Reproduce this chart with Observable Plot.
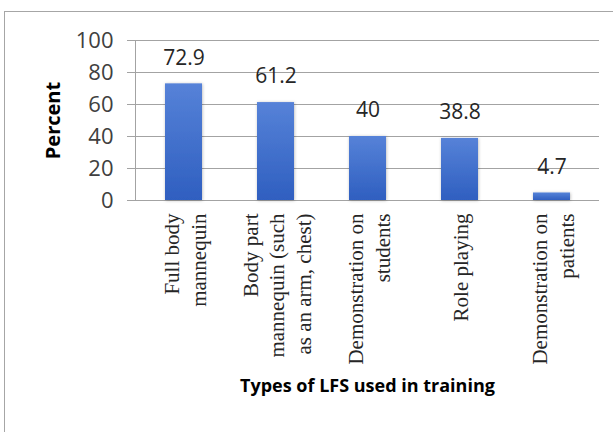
<!DOCTYPE html>
<html>
<head>
<meta charset="utf-8">
<script src="https://cdn.jsdelivr.net/npm/d3@7"></script>
<script src="https://cdn.jsdelivr.net/npm/@observablehq/plot@0.6"></script>
<style>
  html, body { margin: 0; padding: 0; background: #fff; }
  #wrap { position: relative; width: 613px; height: 432px; overflow: hidden; }
  #border { position: absolute; left: 4px; top: 11px; width: 640px; height: 460px;
            border: 1px solid #a6a6a6; box-sizing: border-box; }
  #chart { position: absolute; left: 0; top: 0; }
</style>
</head>
<body>
<div id="wrap">
  <div id="border"></div>
  <div id="chart"></div>
</div>
<script>
// Types of learning-from-simulation (LFS) methods and share of respondents
const types = [
  "Full body\nmannequin",
  "Body part\nmannequin (such\nas an arm, chest)",
  "Demonstration on\nstudents",
  "Role playing",
  "Demonstration on\npatients"
];
const percents = [72.9, 61.2, 40, 38.8, 4.7];
const yTicks = [0, 20, 40, 60, 80, 100];

const data = types.map((t, i) => ({type: t, pct: percents[i]}));

// gradient + soft shadow used by the bars
const defs = () => {
  const d = d3.create("svg:defs");
  const g = d.append("linearGradient").attr("id", "barGrad")
    .attr("x1", 0).attr("y1", 0).attr("x2", 0).attr("y2", 1);
  g.append("stop").attr("offset", "0%").attr("stop-color", "#5682d8");
  g.append("stop").attr("offset", "100%").attr("stop-color", "#2f5fc0");
  const f = d.append("filter").attr("id", "barShadow")
    .attr("x", "-30%").attr("y", "-30%").attr("width", "160%").attr("height", "160%");
  f.append("feDropShadow").attr("dx", 0.5).attr("dy", 0.5).attr("stdDeviation", 1.6)
    .attr("flood-color", "#000").attr("flood-opacity", 0.28);
  return d.node();
};

const chart = Plot.plot({
  width: 613,
  height: 432,
  marginLeft: 135,
  marginRight: 14,
  marginTop: 40,
  marginBottom: 232,
  style: {background: "transparent", overflow: "visible"},
  x: {domain: types, paddingInner: 0.6, paddingOuter: 0.3, axis: null},
  y: {domain: [0, 100], axis: null},
  marks: [
    defs,
    Plot.gridY(yTicks, {stroke: "#a3a3a3", strokeOpacity: 1, strokeWidth: 1}),
    Plot.axisY({ticks: yTicks, tickSize: 8, tickPadding: 14, fontSize: 22,
      fontFamily: "Open Sans", color: "#404040", stroke: "#a3a3a3", label: null}),
    Plot.frame({anchor: "left", stroke: "#a3a3a3"}),
    Plot.barY(data, {x: "type", y: "pct", fill: "url(#barGrad)"}),
    Plot.text(data, {x: "type", y: "pct", text: d => String(d.pct), dy: -26,
      fontSize: 21, fontFamily: "Open Sans", fill: "#262626"}),
    // rotated category labels under the bars
    Plot.text(types, {x: d => d, text: d => d, frameAnchor: "bottom", dy: 13,
      rotate: -90, textAnchor: "end", lineAnchor: "middle", lineHeight: 1.26,
      fontSize: 21, fontFamily: "Liberation Serif", fill: "#262626"}),
    Plot.text(["Types of LFS used in training"], {frameAnchor: "bottom", dy: 191,
      textAnchor: "middle", fontSize: 18, fontWeight: "bold",
      fontFamily: "Open Sans", fill: "#000"}),
    Plot.text(["Percent"], {frameAnchor: "left", dx: -82, rotate: -90,
      textAnchor: "middle", lineAnchor: "middle", fontSize: 20, fontWeight: "bold",
      fontFamily: "Open Sans", fill: "#000"})
  ]
});

d3.select(chart).selectAll('g[aria-label="bar"]').attr("filter", "url(#barShadow)");
document.getElementById("chart").appendChild(chart);
</script>
</body>
</html>
